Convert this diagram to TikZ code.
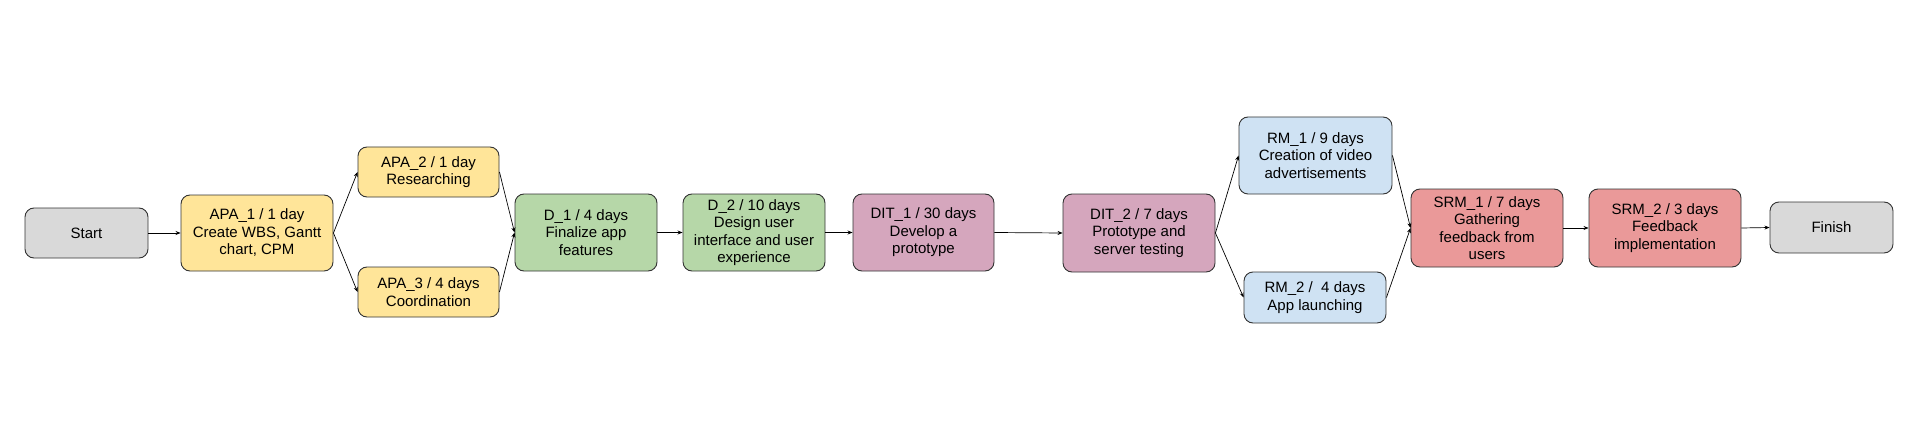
\documentclass[tikz,border=0pt]{standalone}
\usepackage{fontspec}
\setmainfont{Liberation Sans}
\usetikzlibrary{arrows.meta}
\definecolor{cgray}{HTML}{D9D9D9}
\definecolor{cyellow}{HTML}{FFE599}
\definecolor{cgreen}{HTML}{B6D7A8}
\definecolor{cpurple}{HTML}{D5A6BD}
\definecolor{cblue}{HTML}{CFE2F3}
\definecolor{cred}{HTML}{EA9999}
\definecolor{cborder}{HTML}{333333}
\tikzset{
  box/.style={draw=cborder, line width=0.9pt, rounded corners=9pt, align=center,
    inner sep=0pt, font=\fontsize{15}{17.5}\selectfont},
  conn/.style={draw=black, line width=0.7pt, -{Stealth[length=5pt,width=4pt]}},
}
\begin{document}
\begin{tikzpicture}[x=1pt,y=-1pt]
\useasboundingbox (0,0) rectangle (1920,441);
\node[box, fill=cgray, minimum width=123pt, minimum height=50pt] (start) at (86.5,233) {Start};
\node[box, fill=cyellow, minimum width=152pt, minimum height=76pt] (apa1) at (257,233) {APA\_1 / 1 day\\Create WBS, Gantt\\chart, CPM};
\node[box, fill=cyellow, minimum width=141pt, minimum height=50pt] (apa2) at (428.5,172) {APA\_2 / 1 day\\Researching};
\node[box, fill=cyellow, minimum width=141pt, minimum height=50pt] (apa3) at (428.5,292) {APA\_3 / 4 days\\Coordination};
\node[box, fill=cgreen, minimum width=142pt, minimum height=77pt] (d1) at (586,232.5) {D\_1 / 4 days\\Finalize app\\features};
\node[box, fill=cgreen, minimum width=142pt, minimum height=77pt] (d2) at (754,232.5) {D\_2 / 10 days\\Design user\\interface and user\\experience};
\node[box, fill=cpurple, minimum width=141pt, minimum height=77pt] (dit1) at (923.5,232.5) {DIT\_1 / 30 days\\Develop a\\prototype};
\node[box, fill=cpurple, minimum width=152pt, minimum height=78pt] (dit2) at (1139,233) {DIT\_2 / 7 days\\Prototype and\\server testing};
\node[box, fill=cblue, minimum width=153pt, minimum height=77pt] (rm1) at (1315.5,155.5) {RM\_1 / 9 days\\Creation of video\\advertisements};
\node[box, fill=cblue, minimum width=142pt, minimum height=51pt] (rm2) at (1315,297.5) {RM\_2 /\ \ 4 days\\App launching};
\node[box, fill=cred, minimum width=152pt, minimum height=78pt] (srm1) at (1487,228) {SRM\_1 / 7 days\\Gathering\\feedback from\\users};
\node[box, fill=cred, minimum width=152pt, minimum height=78pt] (srm2) at (1665,228) {SRM\_2 / 3 days\\Feedback\\implementation};
\node[box, fill=cgray, minimum width=123pt, minimum height=51pt] (finish) at (1831.5,227.5) {Finish};
\draw[conn] (start.east) -- (apa1.west);
\draw[conn] (apa1.east) -- (apa2.west);
\draw[conn] (apa1.east) -- (apa3.west);
\draw[conn] (apa2.east) -- (d1.west);
\draw[conn] (apa3.east) -- (d1.west);
\draw[conn] (d1.east) -- (d2.west);
\draw[conn] (d2.east) -- (dit1.west);
\draw[conn] (dit1.east) -- (dit2.west);
\draw[conn] (dit2.east) -- (rm1.west);
\draw[conn] (dit2.east) -- (rm2.west);
\draw[conn] (rm1.east) -- (srm1.west);
\draw[conn] (rm2.east) -- (srm1.west);
\draw[conn] (srm1.east) -- (srm2.west);
\draw[conn] (srm2.east) -- (finish.west);
\end{tikzpicture}
\end{document}
